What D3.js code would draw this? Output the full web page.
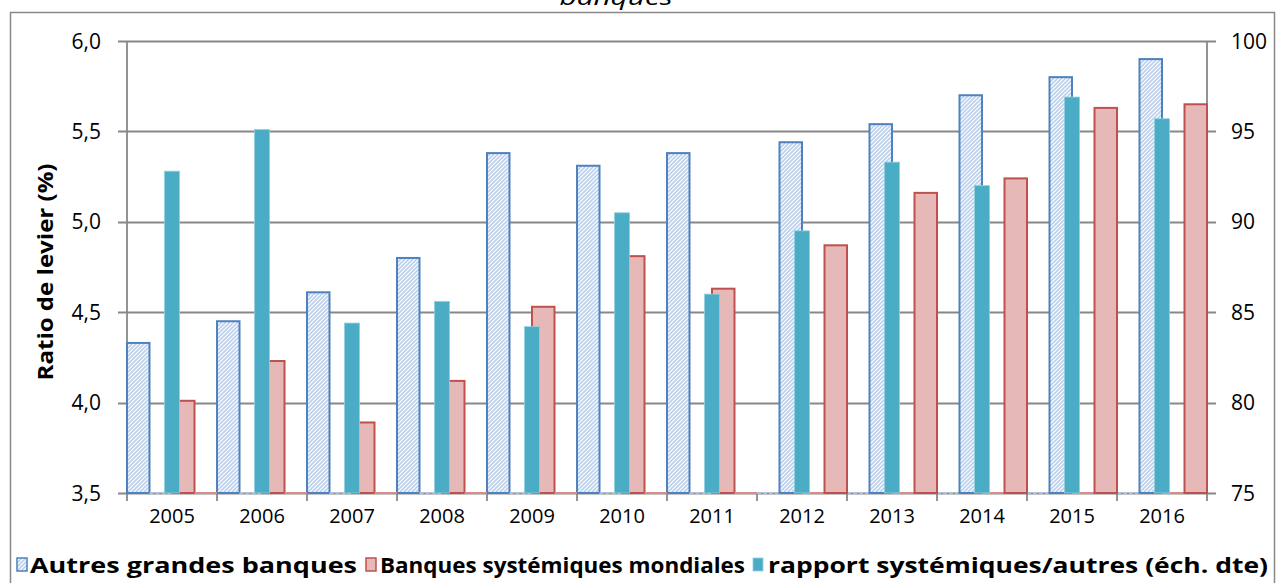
<!DOCTYPE html>
<html>
<head>
<meta charset="utf-8">
<script src="https://cdn.jsdelivr.net/npm/d3@7"></script>
<style>
  html, body { margin: 0; padding: 0; background: #ffffff; }
  svg { display: block; }
  text { font-family: "Open Sans", "Noto Sans", sans-serif; fill: #000; }
</style>
</head>
<body>
<svg id="chart" width="1285" height="583"></svg>
<script>
// ---------- data ----------
const years = ["2005","2006","2007","2008","2009","2010","2011","2012","2013","2014","2015","2016"];
// "Autres grandes banques" (left axis, %), two sample periods
const autresAvant = [4.33, 4.45, 4.61, 4.80, 5.38, 5.31, 5.38, null, null, null, null, null];
const autresApres = [null, null, null, null, null, null, null, 5.44, 5.54, 5.70, 5.80, 5.90];
// "Banques systémiques mondiales" (left axis, %)
const banquesAvant = [4.01, 4.23, 3.89, 4.12, 4.53, 4.81, 4.63, null, null, null, null, null];
const banquesApres = [null, null, null, null, null, null, null, 4.87, 5.16, 5.24, 5.63, 5.65];
// "rapport systémiques/autres (éch. dte)" (right axis)
const rapport = [92.8, 95.1, 84.4, 85.6, 84.2, 90.5, 86.0, 89.5, 93.3, 92.0, 96.9, 95.7];
const leftTicks = [3.5, 4.0, 4.5, 5.0, 5.5, 6.0];
const rightTicks = [75, 80, 85, 90, 95, 100];
const legendLabels = ["Autres grandes banques", "Banques systémiques mondiales", "rapport systémiques/autres (éch. dte)"];
const yTitle = "Ratio de levier (%)";
const titleTail = "banques";

// ---------- layout ----------
const svg = d3.select("#chart");
const plot = { left: 127, right: 1207, top: 41, bottom: 493 };
const C = {
  grid: "#888888", blueStroke: "#4f81bd", hatch: "#bcd0ea",
  redFill: "#e6b9b8", redStroke: "#c0504d", teal: "#4bacc6", tealEdge: "#92cfe0"
};

const x = d3.scaleBand().domain(years).range([plot.left, plot.right]).padding(0);
const yL = d3.scaleLinear().domain([3.5, 6.0]).range([plot.bottom, plot.top]);
const yR = d3.scaleLinear().domain([75, 100]).range([plot.bottom, plot.top]);
const slot = x.bandwidth() / 4;
const tealW = x.bandwidth() / 6;

// hatch pattern
const defs = svg.append("defs");
const pat = defs.append("pattern").attr("id", "hatch").attr("patternUnits", "userSpaceOnUse")
  .attr("width", 4).attr("height", 4);
pat.append("rect").attr("width", 4).attr("height", 4).attr("fill", "#ffffff");
pat.append("path").attr("d", "M-1,5 L5,-1 M-1,1 L1,-1 M3,5 L5,3")
  .attr("stroke", C.hatch).attr("stroke-width", 1.6);

// outer border
svg.append("rect").attr("x", 10.5).attr("y", 12.5).attr("width", 1264).attr("height", 600)
  .attr("fill", "none").attr("stroke", C.grid).attr("stroke-width", 1.5);

// title tail (cut off at the top, as in the source)
svg.append("text").attr("x", 616).attr("y", 5).attr("text-anchor", "middle")
  .style("font-style", "italic").style("font-size", "22px")
  .attr("textLength", 113).attr("lengthAdjust", "spacingAndGlyphs").text(titleTail);

// gridlines
svg.append("g").selectAll("line").data(leftTicks).join("line")
  .attr("x1", plot.left - 9).attr("x2", plot.right + 9)
  .attr("y1", d => Math.round(yL(d)) + 0.5).attr("y2", d => Math.round(yL(d)) + 0.5)
  .attr("stroke", C.grid).attr("stroke-width", 1.8);

// axes lines
svg.append("line").attr("x1", plot.left).attr("x2", plot.left).attr("y1", plot.top).attr("y2", plot.bottom)
  .attr("stroke", C.grid).attr("stroke-width", 1.8);
svg.append("line").attr("x1", plot.right).attr("x2", plot.right).attr("y1", plot.top).attr("y2", plot.bottom)
  .attr("stroke", C.grid).attr("stroke-width", 1.8);
// x ticks at category boundaries
const bounds = years.map(d => x(d)).concat([plot.right]);
svg.append("g").selectAll("line").data(bounds).join("line")
  .attr("x1", d => d).attr("x2", d => d).attr("y1", plot.bottom).attr("y2", plot.bottom + 8)
  .attr("stroke", C.grid).attr("stroke-width", 1.8);

// helper to draw bars of a series in a slot
function hatchedBars(vals, slotIdx) {
  const g = svg.append("g");
  years.forEach((yr, i) => {
    const v = vals[i];
    const x0 = x(yr) + slotIdx * slot;
    if (v == null) {
      g.append("line").attr("x1", x0).attr("x2", x0 + slot).attr("y1", plot.bottom).attr("y2", plot.bottom)
        .attr("stroke", "#a9c0e2").attr("stroke-width", 2).attr("stroke-dasharray", "4,2");
    } else {
      g.append("rect").attr("x", x0).attr("y", yL(v)).attr("width", slot).attr("height", plot.bottom - yL(v))
        .attr("fill", "url(#hatch)").attr("stroke", C.blueStroke).attr("stroke-width", 2);
    }
  });
}
function redBars(vals, slotIdx) {
  const g = svg.append("g");
  years.forEach((yr, i) => {
    const v = vals[i];
    const x0 = x(yr) + slotIdx * slot;
    if (v == null) {
      g.append("line").attr("x1", x0).attr("x2", x0 + slot).attr("y1", plot.bottom).attr("y2", plot.bottom)
        .attr("stroke", "#d98b89").attr("stroke-width", 2);
    } else {
      g.append("rect").attr("x", x0).attr("y", yL(v)).attr("width", slot).attr("height", plot.bottom - yL(v))
        .attr("fill", C.redFill).attr("stroke", C.redStroke).attr("stroke-width", 2);
    }
  });
}
hatchedBars(autresAvant, 0);
hatchedBars(autresApres, 1);
redBars(banquesAvant, 2);
redBars(banquesApres, 3);

// teal bars (secondary axis), centered in category
svg.append("g").selectAll("rect").data(rapport).join("rect")
  .attr("x", (d, i) => x(years[i]) + x.bandwidth() / 2 - tealW / 2)
  .attr("y", d => yR(d)).attr("width", tealW).attr("height", d => plot.bottom - yR(d))
  .attr("fill", C.teal).attr("stroke", C.tealEdge).attr("stroke-width", 0.8);

// left axis labels
const fmt = d => d3.format(".1f")(d).replace(".", ",");
svg.append("g").selectAll("text").data(leftTicks).join("text")
  .attr("x", 101).attr("y", d => yL(d)).attr("dy", "0.36em").attr("text-anchor", "end")
  .style("font-size", "21px").text(fmt);
// right axis labels
svg.append("g").selectAll("text").data(rightTicks).join("text")
  .attr("x", 1231).attr("y", d => yR(d)).attr("dy", "0.36em").attr("text-anchor", "start")
  .style("font-size", "21px").text(d => d);
// year labels
svg.append("g").selectAll("text").data(years).join("text")
  .attr("x", d => x(d) + x.bandwidth() / 2).attr("y", 523).attr("text-anchor", "middle")
  .style("font-size", "20px").text(d => d);

// y title
svg.append("text").attr("transform", "translate(53,272) rotate(-90)").attr("text-anchor", "middle")
  .style("font-size", "22px").style("font-weight", "bold")
  .attr("textLength", 217).attr("lengthAdjust", "spacingAndGlyphs").text(yTitle);

// legend
const legendItems = [
  { label: legendLabels[0], box: 17, tx: 30, w: 327, kind: "hatch" },
  { label: legendLabels[1], box: 366, tx: 380, w: 365, kind: "red" },
  { label: legendLabels[2], box: 753, tx: 768, w: 500, kind: "teal" }
];
const lg = svg.append("g");
legendItems.forEach(it => {
  const r = lg.append("rect").attr("x", it.box).attr("y", 558).attr("width", 10).attr("height", 13);
  if (it.kind === "hatch") r.attr("fill", "url(#hatch)").attr("stroke", C.blueStroke).attr("stroke-width", 1.5);
  else if (it.kind === "red") r.attr("fill", C.redFill).attr("stroke", C.redStroke).attr("stroke-width", 1.5);
  else r.attr("fill", C.teal).attr("stroke", C.tealEdge).attr("stroke-width", 0.8);
  lg.append("text").attr("x", it.tx).attr("y", 573).style("font-size", "22px").style("font-weight", "bold")
    .attr("textLength", it.w).attr("lengthAdjust", "spacingAndGlyphs").text(it.label);
});
</script>
</body>
</html>
